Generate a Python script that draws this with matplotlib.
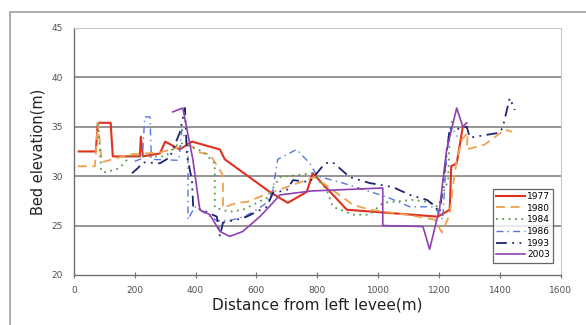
import matplotlib.pyplot as plt
from matplotlib.patches import Rectangle

# distance (m) / elevation (m)
x1977 = [16, 72, 79, 121, 128, 217, 220, 227, 283, 300, 348, 388, 480, 496, 644, 703, 765, 785, 897, 1196, 1235, 1240, 1258, 1278]
y1977 = [32.5, 32.5, 35.4, 35.4, 32.0, 32.0, 34.0, 32.0, 32.3, 33.5, 32.7, 33.5, 32.7, 31.7, 28.4, 27.3, 28.4, 30.3, 26.6, 25.9, 26.6, 31.0, 31.3, 35.0]

x1980 = [13, 69, 79, 92, 184, 283, 380, 414, 447, 480, 490, 490, 535, 570, 634, 700, 792, 917, 972, 1094, 1186, 1209, 1235, 1245, 1258, 1275, 1294, 1291, 1350, 1416, 1439]
y1980 = [31.0, 31.0, 35.4, 31.4, 32.2, 32.4, 33.2, 32.4, 32.2, 30.6, 30.1, 26.8, 27.3, 27.4, 28.2, 28.9, 29.9, 27.1, 26.6, 26.1, 25.6, 24.3, 26.1, 28.9, 31.6, 33.7, 34.4, 32.7, 33.2, 34.7, 34.5]

x1984 = [80, 90, 105, 150, 184, 300, 348, 424, 463, 463, 512, 555, 634, 677, 785, 831, 851, 917, 972, 1015, 1114, 1160, 1196, 1230, 1235, 1245]
y1984 = [35.3, 30.5, 30.4, 30.8, 32.0, 32.0, 33.4, 32.5, 31.3, 26.8, 26.4, 26.6, 27.8, 29.9, 30.3, 28.6, 26.9, 26.1, 26.1, 27.3, 27.6, 27.4, 26.9, 29.6, 34.4, 36.0]

x1986 = [200, 225, 233, 250, 255, 345, 355, 375, 375, 397, 470, 510, 560, 601, 634, 654, 670, 732, 775, 800, 884, 1028, 1104, 1186, 1212, 1225, 1240, 1260]
y1986 = [31.5, 31.8, 36.0, 36.0, 31.7, 31.6, 34.7, 33.0, 25.6, 26.9, 25.5, 25.5, 25.9, 26.6, 27.3, 28.6, 31.7, 32.7, 31.3, 30.0, 29.3, 27.9, 26.9, 26.9, 25.6, 32.4, 35.0, 34.0]

x1993 = [191, 210, 227, 283, 315, 348, 365, 372, 388, 392, 420, 470, 480, 490, 535, 568, 601, 634, 654, 700, 720, 775, 825, 851, 907, 972, 1048, 1104, 1160, 1186, 1202, 1235, 1250, 1291, 1301, 1399, 1409, 1432, 1449]
y1993 = [30.3, 30.8, 31.4, 31.3, 31.9, 34.4, 36.9, 32.0, 29.6, 27.0, 26.6, 25.9, 23.9, 25.3, 25.6, 25.9, 26.4, 26.9, 28.3, 28.6, 29.6, 29.4, 31.3, 31.4, 29.9, 29.3, 28.9, 28.1, 27.6, 27.0, 26.3, 34.9, 34.7, 35.0, 33.9, 34.4, 34.9, 37.9, 36.7]

x2003 = [325, 358, 391, 414, 447, 480, 512, 555, 611, 654, 677, 780, 1015, 1015, 1147, 1169, 1202, 1225, 1258, 1278, 1291]
y2003 = [36.5, 36.9, 31.7, 26.6, 26.1, 24.4, 23.9, 24.4, 25.9, 27.3, 28.1, 28.5, 28.8, 25.0, 24.9, 22.6, 26.8, 32.7, 36.9, 35.0, 35.4]

years = ["1977", "1980", "1984", "1986", "1993", "2003"]

fig = plt.figure(figsize=(5.86, 3.25), dpi=100)
fig.patches.append(Rectangle((10 / 586, -0.1), 1.1, 1 - 12 / 325 + 0.1, transform=fig.transFigure,
                             fill=False, edgecolor="#a0a0a0", linewidth=1.2))
ax = fig.add_axes([0.126, 0.154, 0.831, 0.760])

ax.plot(x1977, y1977, color="#e0301e", lw=1.5, ls="-", label=years[0])
ax.plot(x1980, y1980, color="#f0a050", lw=1.3, ls=(0, (5, 3)), label=years[1])
ax.plot(x1984, y1984, color="#5a9a48", lw=1.3, ls=(0, (1, 2.5)), label=years[2])
ax.plot(x1986, y1986, color="#5878e0", lw=1.0, ls=(0, (5, 3, 1, 3)), label=years[3])
ax.plot(x1993, y1993, color="#1c2470", lw=1.3, ls=(0, (6, 3, 1, 3, 1, 3)), label=years[4])
ax.plot(x2003, y2003, color="#9040b0", lw=1.2, ls="-", label=years[5])

ax.set_xlim(0, 1600)
ax.set_ylim(20, 45)
ax.set_xticks(range(0, 1601, 200))
ax.set_yticks(range(20, 46, 5))
for v in (25, 30, 35, 40):
    ax.axhline(v, color="#8c8c8c", lw=1.3, zorder=0)

for s in ("top", "right"):
    ax.spines[s].set_color("#c8c8c8")
for s in ("left", "bottom"):
    ax.spines[s].set_color("#707070")
    ax.spines[s].set_linewidth(1.0)
ax.tick_params(axis="x", direction="inout", length=4, labelsize=6.5, labelcolor="#505050", color="#707070", pad=6)
ax.tick_params(axis="y", length=0, labelsize=6.5, labelcolor="#505050", pad=8)

ax.set_xlabel("Distance from left levee(m)", fontsize=11, color="#222222", labelpad=2)
ax.set_ylabel("Bed elevation(m)", fontsize=10.5, color="#222222", labelpad=4)

leg = ax.legend(loc="lower right", bbox_to_anchor=(0.985, 0.05), fontsize=6.5, frameon=True, fancybox=False,
                edgecolor="#404040", handlelength=3.2, handletextpad=0.3, borderpad=0.35, labelspacing=0.3,
                borderaxespad=0)
leg.get_frame().set_linewidth(0.9)

fig.savefig("out.png", dpi=100)
